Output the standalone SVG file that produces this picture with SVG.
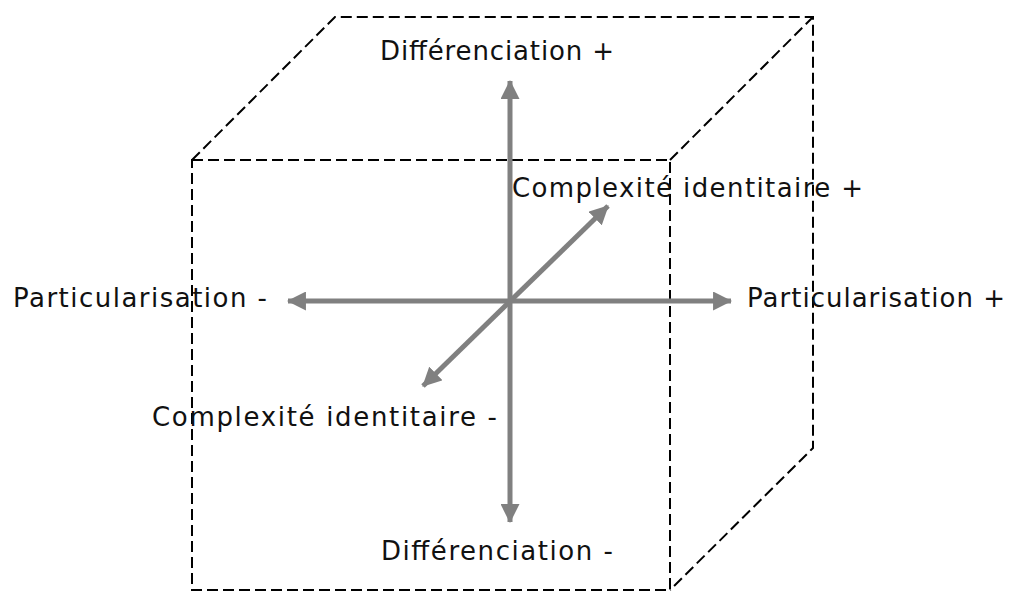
<svg xmlns="http://www.w3.org/2000/svg" width="1013" height="592" viewBox="0 0 1013 592">
<style>
.cube{fill:none;stroke:#000;stroke-width:2;stroke-dasharray:11 5}
.axis{stroke:#808080;stroke-width:5;fill:none}
.lbl{font-family:"DejaVu Sans","Liberation Sans",sans-serif;font-size:26px;fill:#111}
</style>
<defs>
<marker id="ah" markerUnits="userSpaceOnUse" viewBox="0 0 18 18" refX="17" refY="9" markerWidth="19" markerHeight="19" orient="auto-start-reverse">
<path d="M0,0 L18,9 L0,18 Z" fill="#808080"/>
</marker>
</defs>
<rect width="1013" height="592" fill="#fff"/>
<g id="cube">
<path class="cube" d="M192,160 L670,160 L670,590 L192,590 Z"/>
<path class="cube" d="M192,160 L335,17 L813,17 L813,448 L670,590"/>
<path class="cube" d="M670,160 L813,17"/>
</g>
<g id="connectors">
<line class="axis" x1="510" y1="522" x2="510" y2="81" marker-start="url(#ah)" marker-end="url(#ah)"/>
<line class="axis" x1="288" y1="301" x2="731" y2="301" marker-start="url(#ah)" marker-end="url(#ah)"/>
<line class="axis" x1="423" y1="386" x2="608" y2="206" marker-start="url(#ah)" marker-end="url(#ah)"/>
</g>
<g id="diff-plus"><text class="lbl" x="380" y="60" textLength="234" lengthAdjust="spacing">Différenciation +</text></g>
<g id="compl-plus"><text class="lbl" x="512" y="197" textLength="351" lengthAdjust="spacing">Complexité identitaire +</text></g>
<g id="part-minus"><text class="lbl" x="13" y="307" textLength="254" lengthAdjust="spacing">Particularisation -</text></g>
<g id="part-plus"><text class="lbl" x="747" y="307" textLength="258" lengthAdjust="spacing">Particularisation +</text></g>
<g id="compl-minus"><text class="lbl" x="152" y="426" textLength="345" lengthAdjust="spacing">Complexité identitaire -</text></g>
<g id="diff-minus"><text class="lbl" x="381" y="560" textLength="232" lengthAdjust="spacing">Différenciation -</text></g>
</svg>
